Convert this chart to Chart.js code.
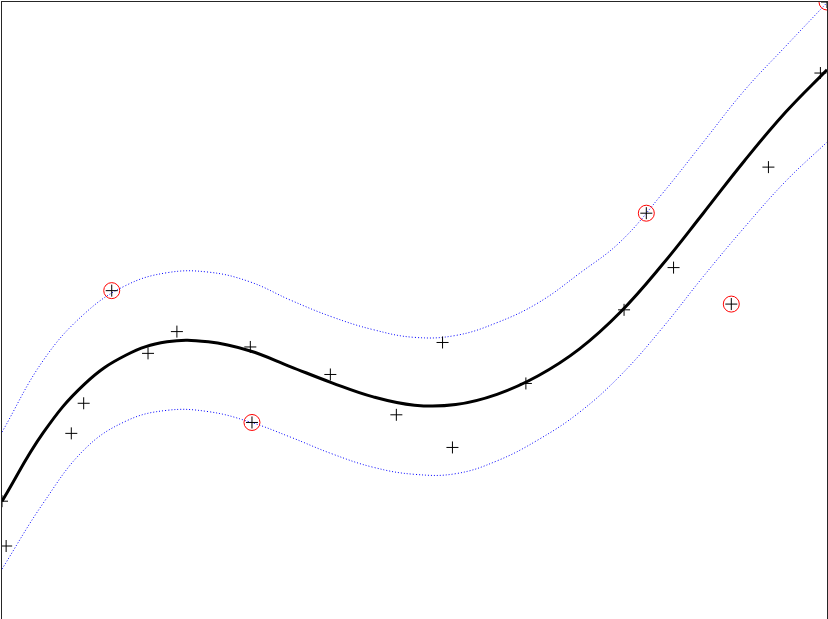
<!DOCTYPE html>
<html>
<head>
<meta charset="utf-8">
<script src="https://cdn.jsdelivr.net/npm/chart.js@4/dist/chart.umd.min.js"></script>
<style>
  html, body { margin: 0; padding: 0; background: #ffffff; overflow: hidden; }
  #wrap { position: absolute; left: 0; top: 0; width: 828px; height: 644px; }
</style>
</head>
<body>
<div id="wrap"><canvas id="c" width="828" height="644"></canvas></div>
<script>
// Sample positions along x for the fitted curve and its bounds
const fitX = [0.00, 0.05, 0.10, 0.15, 0.20, 0.25, 0.30, 0.35, 0.40, 0.45, 0.50,
              0.55, 0.60, 0.65, 0.70, 0.75, 0.80, 0.85, 0.90, 0.95, 1.00];
// Fitted curve (thick black)
const fitY = [2.20, 3.27, 4.03, 4.48, 4.69, 4.69, 4.55, 4.30, 4.05, 3.83, 3.70,
              3.71, 3.87, 4.16, 4.58, 5.16, 5.89, 6.70, 7.52, 8.28, 8.94];
// Upper bound (blue dotted)
const upperY = [3.28, 4.40, 5.13, 5.57, 5.77, 5.78, 5.63, 5.34, 5.08, 4.88, 4.76,
                4.79, 4.99, 5.30, 5.76, 6.26, 7.00, 7.81, 8.62, 9.31, 9.99];
// Lower bound (blue dotted)
const lowerY = [1.14, 2.17, 3.01, 3.45, 3.62, 3.60, 3.44, 3.20, 2.94, 2.73, 2.62,
                2.63, 2.83, 3.16, 3.59, 4.17, 4.90, 5.71, 6.48, 7.20, 7.81];
// Observations (black plus markers)
const obsX = [0.000, 0.005, 0.084, 0.099, 0.133, 0.177, 0.212, 0.301, 0.303, 0.398, 0.478,
              0.534, 0.546, 0.635, 0.754, 0.781, 0.814, 0.884, 0.929, 0.992, 1.000];
const obsY = [2.20, 1.50, 3.26, 3.73, 5.49, 4.51, 4.85, 4.61, 3.43, 4.18, 3.55,
              4.68, 3.04, 4.04, 5.19, 6.70, 5.85, 5.28, 7.42, 8.89, 10.00];
// Indices of flagged outliers (red circles)
const outlierIdx = [4, 8, 15, 17, 20];

const pts = (xs, ys) => xs.map((x, i) => ({ x: x, y: ys[i] }));

const framePlugin = {
  id: 'frame',
  afterDraw(chart) {
    const a = chart.chartArea, ctx = chart.ctx;
    ctx.save();
    ctx.strokeStyle = '#262626';
    ctx.lineWidth = 1;
    ctx.strokeRect(a.left - 0.5, a.top - 0.5, a.right - a.left + 1, a.bottom - a.top + 1);
    ctx.restore();
  }
};

const curveOpts = { pointRadius: 0, tension: 0.4, fill: false, clip: 0 };

new Chart(document.getElementById('c'), {
  type: 'scatter',
  data: {
    datasets: [
      {
        label: 'Data',
        data: pts(obsX, obsY),
        pointStyle: 'cross',
        pointRadius: 6,
        pointBorderColor: '#000000',
        pointBackgroundColor: '#000000',
        pointBorderWidth: 1,
        showLine: false,
        clip: 0,
        order: 0
      },
      {
        label: 'Outliers',
        data: outlierIdx.map(i => ({ x: obsX[i], y: obsY[i] })),
        pointStyle: 'circle',
        pointRadius: 8,
        pointBorderColor: '#ff0000',
        pointBackgroundColor: 'rgba(0,0,0,0)',
        pointBorderWidth: 1,
        showLine: false,
        clip: 0,
        order: 1
      },
      Object.assign({
        type: 'line',
        label: 'Fit',
        data: pts(fitX, fitY),
        borderColor: '#000000',
        borderWidth: 3,
        order: 2
      }, curveOpts),
      Object.assign({
        type: 'line',
        label: 'Upper',
        data: pts(fitX, upperY),
        borderColor: '#0000ff',
        borderWidth: 1,
        borderDash: [1, 2],
        order: 3
      }, curveOpts),
      Object.assign({
        type: 'line',
        label: 'Lower',
        data: pts(fitX, lowerY),
        borderColor: '#0000ff',
        borderWidth: 1,
        borderDash: [1, 2],
        order: 3
      }, curveOpts)
    ]
  },
  options: {
    responsive: false,
    animation: false,
    devicePixelRatio: 1,
    layout: { autoPadding: false, padding: { left: 2, top: 2, right: 1, bottom: 2 } },
    plugins: { legend: { display: false }, tooltip: { enabled: false } },
    scales: {
      x: { type: 'linear', min: 0, max: 1, display: false },
      y: { type: 'linear', min: 0, max: 10, display: false }
    }
  },
  plugins: [framePlugin]
});
</script>
</body>
</html>
